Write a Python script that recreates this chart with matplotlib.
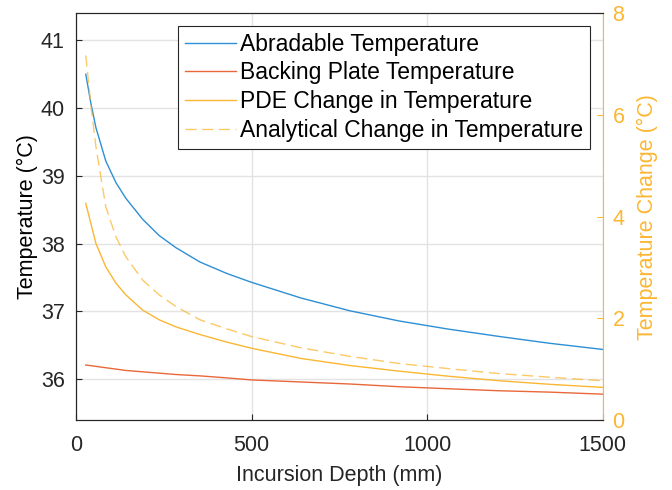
import matplotlib
matplotlib.use('Agg')
import matplotlib.pyplot as plt

# values
depth = [28, 43, 57, 85, 114, 142, 190, 237, 285, 353, 430, 500, 640, 780, 920,
         1060, 1207, 1350, 1500]
abradable = [40.50, 40.06, 39.71, 39.22, 38.90, 38.67, 38.36, 38.12, 37.94, 37.73,
             37.56, 37.43, 37.20, 37.01, 36.86, 36.74, 36.63, 36.53, 36.44]
backing = [36.21, 36.20, 36.19, 36.17, 36.15, 36.13, 36.11, 36.09, 36.07, 36.05,
           36.02, 35.99, 35.96, 35.93, 35.89, 35.86, 35.83, 35.81, 35.78]
pde_change = [4.26, 3.85, 3.47, 3.01, 2.69, 2.46, 2.16, 1.97, 1.83, 1.68,
              1.53, 1.41, 1.21, 1.07, 0.96, 0.86, 0.77, 0.70, 0.64]
analytical_change = [7.17, 6.16, 5.37, 4.19, 3.60, 3.21, 2.75, 2.46, 2.23, 1.97,
                     1.79, 1.64, 1.42, 1.25, 1.11, 1.01, 0.91, 0.84, 0.77]

left_ticks = [36, 37, 38, 39, 40, 41]
right_ticks = [0, 2, 4, 6, 8]
x_ticks = [0, 500, 1000, 1500]

blue = '#2d8fd5'
red = '#e8683a'
yellow = '#fbb733'
dark = '#262626'

plt.rcParams['font.family'] = ['Liberation Sans', 'DejaVu Sans']
fs = 15.5

fig = plt.figure(figsize=(6.72, 4.9), dpi=100)
ax = fig.add_axes([0.113, 0.143, 0.784, 0.830])
ax2 = ax.twinx()

l1, = ax.plot(depth, abradable, color=blue, lw=1.0, label='Abradable Temperature')
l2, = ax.plot(depth, backing, color=red, lw=1.0, label='Backing Plate Temperature')
l3, = ax2.plot(depth, pde_change, color=yellow, lw=1.0, label='PDE Change in Temperature')
l4, = ax2.plot(depth, analytical_change, color=yellow, lw=1.0, alpha=0.75,
               dashes=(8, 4), label='Analytical Change in Temperature')

ax.set_xlim(0, 1500)
ax.set_ylim(35.4, 41.4)
ax2.set_ylim(0, 8)
ax.set_xticks(x_ticks)
ax.set_yticks(left_ticks)
ax2.set_yticks(right_ticks)

ax.grid(True, color='#e3e3e3', lw=1.0)
ax.set_axisbelow(True)

ax.tick_params(direction='in', length=4, width=0.8, colors=dark, labelsize=fs)
ax.tick_params(axis='x', pad=11)
ax.tick_params(axis='y', pad=8)
ax2.tick_params(direction='in', length=4, width=0.8, colors=yellow, labelsize=fs, pad=7)

for s in ['left', 'bottom', 'top']:
    ax.spines[s].set_color(dark)
    ax2.spines[s].set_color(dark)
ax2.spines['right'].set_color(yellow)
ax.spines['right'].set_visible(False)

ax.set_xlabel('Incursion Depth (mm)', color=dark, fontsize=fs, labelpad=6)
ax.set_ylabel('Temperature (°C)', color='black', fontsize=fs, labelpad=2)
ax2.set_ylabel('Temperature Change (°C)', color=yellow, fontsize=fs, labelpad=9)

leg = ax2.legend(handles=[l1, l2, l3, l4], loc='upper right', fontsize=16.5,
                 fancybox=False, framealpha=1, edgecolor=dark, handlelength=2.2,
                 borderaxespad=0.55, labelspacing=0.25, handletextpad=0.2,
                 borderpad=0.3)
leg.get_frame().set_linewidth(0.8)

plt.savefig('out.png', dpi=100)
